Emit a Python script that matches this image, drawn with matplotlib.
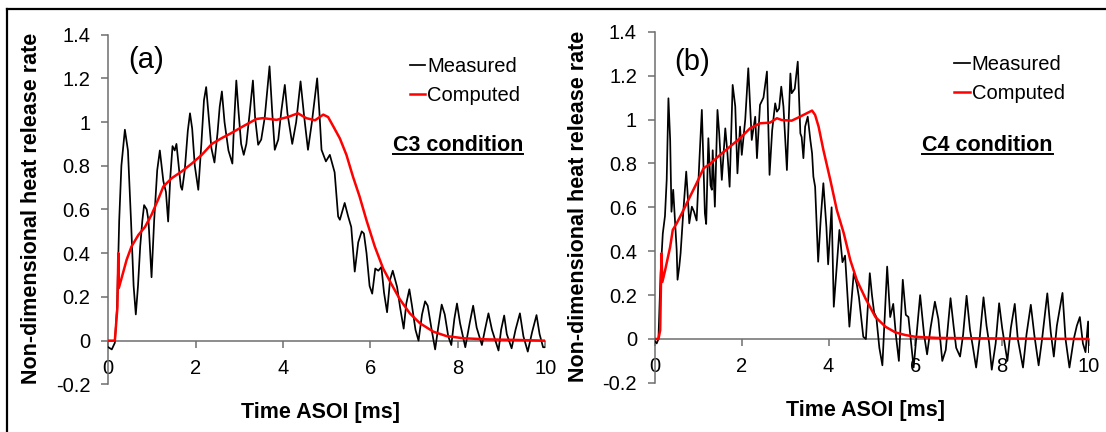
import matplotlib
matplotlib.use("Agg")
import matplotlib.pyplot as plt
from matplotlib.lines import Line2D

plt.rcParams['font.family'] = ['Liberation Sans', 'DejaVu Sans']
plt.rcParams['axes.unicode_minus'] = False

#panel (a), C3 condition: measured heat release rate
t_meas_a = [0.00, 0.08, 0.15, 0.20, 0.25, 0.30, 0.38, 0.45, 0.52, 0.58, 0.63, 0.68, 0.73, 0.78, 0.82,
            0.88, 0.92, 0.96, 0.99, 1.05, 1.12, 1.18, 1.26, 1.32, 1.37, 1.42, 1.47, 1.52, 1.56, 1.61,
            1.66, 1.69, 1.75, 1.82, 1.87, 1.92, 1.98, 2.06, 2.13, 2.19, 2.24, 2.30, 2.36, 2.43, 2.50,
            2.55, 2.60, 2.66, 2.75, 2.84, 2.88, 2.93, 2.98, 3.04, 3.10, 3.16, 3.24, 3.31, 3.36, 3.43,
            3.50, 3.58, 3.64, 3.69, 3.75, 3.81, 3.89, 3.96, 4.04, 4.10, 4.21, 4.30, 4.40, 4.48, 4.57,
            4.66, 4.78, 4.83, 4.88, 4.98, 5.07, 5.18, 5.26, 5.30, 5.41, 5.49, 5.56, 5.64, 5.72, 5.80,
            5.85, 5.91, 5.98, 6.04, 6.11, 6.18, 6.25, 6.31, 6.38, 6.45, 6.51, 6.61, 6.68, 6.76, 6.82,
            6.89, 6.95, 7.03, 7.10, 7.18, 7.25, 7.31, 7.40, 7.48, 7.55, 7.63, 7.70, 7.78, 7.85, 7.92,
            7.98, 8.05, 8.17, 8.27, 8.35, 8.43, 8.55, 8.62, 8.70, 8.78, 8.93, 8.99, 9.06, 9.12, 9.23,
            9.32, 9.42, 9.50, 9.60, 9.70, 9.80, 9.87, 9.95, 10.0]
hrr_meas_a = [-0.03, -0.04, -0.01, 0.15, 0.55, 0.80, 0.965, 0.87, 0.55, 0.25, 0.12, 0.25, 0.43, 0.55, 0.62,
              0.60, 0.55, 0.40, 0.29, 0.55, 0.78, 0.87, 0.73, 0.68, 0.545, 0.75, 0.89, 0.87, 0.90, 0.80,
              0.705, 0.69, 0.78, 0.96, 1.04, 0.97, 0.80, 0.69, 0.90, 1.10, 1.16, 1.02, 0.88, 0.815, 0.95,
              1.07, 1.14, 1.00, 0.87, 0.81, 1.00, 1.19, 1.05, 0.90, 0.85, 0.90, 1.05, 1.19, 1.02, 0.896,
              0.92, 1.02, 1.15, 1.255, 1.05, 0.873, 0.92, 1.05, 1.17, 1.04, 0.90, 1.00, 1.186, 1.03, 0.873,
              1.00, 1.20, 1.05, 0.873, 0.82, 0.85, 0.77, 0.568, 0.553, 0.63, 0.568, 0.52, 0.316, 0.45, 0.50,
              0.49, 0.40, 0.25, 0.215, 0.33, 0.32, 0.337, 0.22, 0.13, 0.28, 0.32, 0.245, 0.15, 0.055, 0.17,
              0.235, 0.16, 0.05, 0.00, 0.12, 0.18, 0.16, 0.05, -0.04, 0.06, 0.165, 0.12, 0.02, -0.02, 0.10,
              0.17, 0.08, -0.03, 0.08, 0.16, 0.06, -0.02, 0.05, 0.125, 0.05, -0.045, 0.05, 0.115, 0.03, -0.035,
              0.05, 0.125, 0.02, -0.05, 0.04, 0.117, 0.03, -0.03, -0.03]

#panel (a): computed heat release rate
t_comp_a = [0.00, 0.15, 0.21, 0.23, 0.24, 0.31, 0.42, 0.53, 0.69, 0.84, 0.99, 1.15, 1.26, 1.45, 1.68,
            1.91, 2.14, 2.37, 2.60, 2.82, 3.08, 3.39, 3.54, 3.85, 4.11, 4.34, 4.53, 4.73, 4.92, 5.03,
            5.15, 5.30, 5.45, 5.60, 5.75, 5.91, 6.10, 6.29, 6.49, 6.67, 6.90, 7.13, 7.44, 7.74, 8.13,
            8.66, 9.42, 10.0]
hrr_comp_a = [0.0, 0.0, 0.155, 0.40, 0.24, 0.29, 0.37, 0.43, 0.484, 0.52, 0.576, 0.65, 0.705, 0.743, 0.774,
              0.81, 0.85, 0.90, 0.927, 0.95, 0.98, 1.014, 1.018, 1.01, 1.023, 1.04, 1.018, 1.008, 1.034, 1.023,
              0.98, 0.925, 0.85, 0.75, 0.66, 0.55, 0.43, 0.33, 0.255, 0.19, 0.125, 0.080, 0.041, 0.021, 0.011,
              0.006, 0.003, 0.0]

#panel (b), C4 condition: measured heat release rate
t_meas_b = [0.00, 0.04, 0.08, 0.13, 0.18, 0.23, 0.27, 0.31, 0.35, 0.38, 0.42, 0.45, 0.50, 0.52, 0.56,
            0.59, 0.65, 0.72, 0.75, 0.79, 0.85, 0.90, 0.96, 1.02, 1.08, 1.15, 1.18, 1.23, 1.28, 1.31,
            1.33, 1.38, 1.44, 1.48, 1.54, 1.62, 1.67, 1.72, 1.79, 1.85, 1.90, 1.96, 2.00, 2.08, 2.15,
            2.23, 2.31, 2.35, 2.42, 2.50, 2.58, 2.64, 2.70, 2.77, 2.81, 2.86, 2.91, 2.96, 3.04, 3.12,
            3.15, 3.22, 3.29, 3.35, 3.38, 3.42, 3.46, 3.52, 3.58, 3.62, 3.65, 3.69, 3.76, 3.82, 3.88,
            3.95, 3.99, 4.07, 4.12, 4.25, 4.32, 4.38, 4.48, 4.58, 4.65, 4.70, 4.80, 4.86, 4.95, 5.00,
            5.05, 5.10, 5.17, 5.24, 5.35, 5.42, 5.49, 5.55, 5.62, 5.71, 5.78, 5.84, 5.96, 6.11, 6.20,
            6.27, 6.35, 6.45, 6.53, 6.62, 6.70, 6.81, 6.88, 6.94, 7.03, 7.10, 7.18, 7.26, 7.32, 7.40,
            7.48, 7.57, 7.64, 7.70, 7.76, 7.85, 7.93, 8.00, 8.12, 8.20, 8.29, 8.36, 8.48, 8.56, 8.66,
            8.74, 8.84, 8.92, 9.04, 9.12, 9.19, 9.26, 9.39, 9.46, 9.55, 9.65, 9.72, 9.79, 9.86, 9.92,
            9.98, 10.0]
hrr_meas_b = [-0.01, -0.02, 0.0, 0.30, 0.48, 0.56, 0.725, 1.097, 0.907, 0.58, 0.68, 0.58, 0.406, 0.27, 0.33,
              0.39, 0.573, 0.763, 0.67, 0.527, 0.603, 0.58, 0.54, 0.80, 1.044, 0.573, 0.524, 0.915, 0.70, 0.68,
              0.86, 0.603, 1.044, 0.938, 0.725, 0.96, 0.846, 0.694, 1.158, 1.06, 0.755, 0.968, 0.839, 1.00, 1.234,
              0.907, 1.013, 0.824, 1.067, 1.10, 1.219, 0.748, 0.95, 1.074, 1.036, 1.05, 1.15, 1.06, 0.77, 1.21,
              1.12, 1.14, 1.264, 0.937, 0.92, 0.824, 0.968, 1.013, 0.907, 0.846, 0.74, 0.694, 0.352, 0.55, 0.71,
              0.51, 0.34, 0.60, 0.147, 0.497, 0.35, 0.38, 0.056, 0.30, 0.25, 0.19, 0.01, 0.0, 0.30, 0.20,
              0.12, 0.10, -0.04, -0.12, 0.33, 0.10, 0.16, 0.02, -0.10, 0.27, 0.11, 0.10, -0.13, 0.20, 0.02,
              -0.07, 0.05, 0.17, 0.09, -0.10, -0.05, 0.186, 0.06, -0.04, -0.08, 0.02, 0.197, 0.04, -0.03, -0.13,
              0.00, 0.19, 0.06, -0.02, -0.14, -0.02, 0.163, 0.05, -0.10, 0.05, 0.16, 0.00, -0.13, 0.02, 0.156,
              0.02, -0.12, 0.00, 0.208, 0.03, -0.08, 0.06, 0.21, 0.00, -0.13, 0.00, 0.06, 0.10, -0.02, -0.06,
              0.08, -0.06]

#panel (b): computed heat release rate
t_comp_b = [0.00, 0.08, 0.12, 0.15, 0.17, 0.23, 0.35, 0.41, 0.50, 0.62, 0.77, 0.96, 1.12, 1.27, 1.50,
            1.73, 1.96, 2.19, 2.42, 2.65, 2.81, 2.92, 3.15, 3.31, 3.50, 3.62, 3.69, 3.77, 3.88, 4.04,
            4.19, 4.35, 4.50, 4.65, 4.85, 5.08, 5.31, 5.54, 5.77, 6.00, 6.50, 7.50, 10.0]
hrr_comp_b = [0.0, 0.0, 0.04, 0.39, 0.26, 0.31, 0.42, 0.497, 0.527, 0.573, 0.634, 0.71, 0.778, 0.798, 0.839,
              0.877, 0.915, 0.96, 0.983, 0.986, 1.006, 0.998, 0.995, 1.01, 1.029, 1.041, 1.021, 0.968, 0.862, 0.725,
              0.588, 0.482, 0.36, 0.269, 0.185, 0.10, 0.056, 0.03, 0.018, 0.01, 0.005, 0.003, 0.0]

x_ticks = [0, 2, 4, 6, 8, 10]
y_ticks = [-0.2, 0, 0.2, 0.4, 0.6, 0.8, 1, 1.2, 1.4]
y_tick_labels = ['-0.2', '0', '0.2', '0.4', '0.6', '0.8', '1', '1.2', '1.4']

axis_color = '#6e6e6e'


def draw_panel(ax, t_meas, v_meas, t_comp, v_comp, tag, condition, tag_y, leg_top, cond_x, cond_y):
    '''One panel: measured vs computed heat release rate'''
    ax.plot(t_meas, v_meas, color='black', lw=1.25, zorder=3, label='Measured')
    ax.plot(t_comp, v_comp, color='red', lw=1.8, zorder=4, label='Computed')

    ax.set_xlim(0, 10)
    ax.set_ylim(-0.2, 1.4)
    ax.spines['top'].set_visible(False)
    ax.spines['right'].set_visible(False)
    ax.spines['bottom'].set_position(('data', 0))
    for s in ['left', 'bottom']:
        ax.spines[s].set_color(axis_color)
        ax.spines[s].set_linewidth(1.1)

    ax.set_xticks(x_ticks)
    ax.set_yticks(y_ticks)
    ax.set_yticklabels(y_tick_labels)
    ax.tick_params(direction='out', length=5, width=1.1, color=axis_color, labelsize=14.5)
    ax.tick_params(axis='y', pad=8)
    ax.tick_params(axis='x', pad=8)

    ax.set_xlabel('Time ASOI [ms]', fontsize=15.5, fontweight='bold')
    ax.xaxis.set_label_coords(0.486, -0.05)
    ax.set_ylabel('Non-dimensional heat release rate', fontsize=15.5, fontweight='bold')
    ax.yaxis.set_label_coords(-0.152, 0.504)

    ax.text(0.045, tag_y, tag, transform=ax.transAxes, fontsize=21, va='center', ha='left')

    ax.legend(loc='upper left', bbox_to_anchor=(0.69, leg_top), frameon=False, fontsize=14.5,
              handlelength=0.75, handletextpad=0.1, borderpad=0, borderaxespad=0, labelspacing=0.5)

    cond = ax.text(cond_x, cond_y, condition, transform=ax.transAxes, fontsize=15.5,
                   fontweight='bold', ha='right', va='baseline')
    return cond


fig = plt.figure(figsize=(11.06, 4.32), dpi=100)
ax_a = fig.add_axes([0.0979, 0.1102, 0.3951, 0.8097])
ax_b = fig.add_axes([0.5922, 0.1137, 0.3924, 0.8127])

cond_a = draw_panel(ax_a, t_meas_a, hrr_meas_a, t_comp_a, hrr_comp_a, '(a)', 'C3 condition',
                    0.927, 0.937, 0.949, 0.667)
cond_b = draw_panel(ax_b, t_meas_b, hrr_meas_b, t_comp_b, hrr_comp_b, '(b)', 'C4 condition',
                    0.914, 0.934, 0.917, 0.660)

#underline the condition labels
fig.canvas.draw()
renderer = fig.canvas.get_renderer()
for txt in [cond_a, cond_b]:
    bb = txt.get_window_extent(renderer)
    x0, x1 = bb.x0 / fig.bbox.width, bb.x1 / fig.bbox.width
    y_disp = txt.get_transform().transform(txt.get_position())[1] - 3
    y_fig = y_disp / fig.bbox.height
    fig.add_artist(Line2D([x0, x1], [y_fig, y_fig], color='black', lw=1.4))

#outer frame (top and left edges)
fig.add_artist(Line2D([0.0063, 1.0], [0.979, 0.979], color='black', lw=1.6))
fig.add_artist(Line2D([0.0063, 0.0063], [0.0, 0.979], color='black', lw=1.6))

fig.savefig('out.png', dpi=100)
